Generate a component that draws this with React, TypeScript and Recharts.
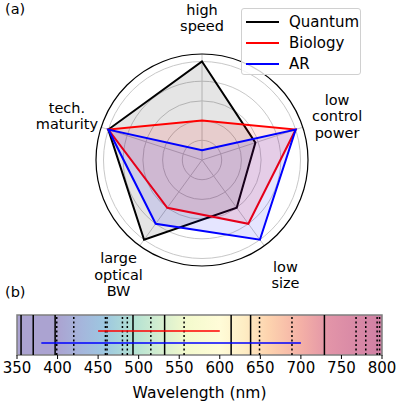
import React from "react";
import {
  RadarChart,
  Radar,
  PolarGrid,
  PolarAngleAxis,
  PolarRadiusAxis,
  Legend,
  ComposedChart,
  Line,
  XAxis,
  YAxis,
  ReferenceLine,
  ReferenceArea,
  Label,
} from "recharts";

// --- radar data ---
const axes = ["high speed", "low control power", "low size", "large optical BW", "tech. maturity"];
const axisLabelLines = [
  ["high", "speed"],
  ["low", "control", "power"],
  ["low", "size"],
  ["large", "optical", "BW"],
  ["tech.", "maturity"],
];
const quantum = [5, 2.85, 3, 5, 5];
const biology = [2, 5, 4, 3, 5];
const ar = [0.5, 5, 5, 4, 5];
const radarTicks = [1, 2, 3, 4, 5];

// --- spectrum data (nm) ---
const wlTicks = [350, 400, 450, 500, 550, 600, 650, 700, 750, 800];
const solidLines = [355, 370, 397, 493, 532, 614, 638, 729];
const dottedLines = [399, 420, 459, 461, 480, 486, 515, 556, 649, 689, 768, 780, 794, 797];
const biologyRange = [450, 600];
const arRange = [380, 700];
const spectrumWl = [350, 400, 430, 458, 495, 530, 560, 600, 630, 660, 700, 735, 800];
const spectrumColors = [
  "#aba3d1", "#aba3d1", "#a5b6dc", "#9dc7e0", "#b4e2d3", "#d8efcf", "#f4facd",
  "#fffcd8", "#feedc4", "#fdd3ae", "#f4b0a6", "#e294a8", "#cf7fa4",
];

const series = [
  { key: "Quantum", color: "#000000", fillOpacity: 0.1 },
  { key: "Biology", color: "#ff0000", fillOpacity: 0.1 },
  { key: "AR", color: "#0000ff", fillOpacity: 0.1 },
];

const radarData = axes.map((a, i) => ({
  axis: a,
  Quantum: quantum[i],
  Biology: biology[i],
  AR: ar[i],
}));

const CX = 202;
const CY = 160;
const OUTER_R = 106;
const LABEL_R = 142;
const FONT = "'DejaVu Sans', sans-serif";

function AngleTick(props: any) {
  const { payload } = props;
  const idx = axes.indexOf(payload.value);
  const lines = axisLabelLines[idx] || [payload.value];
  const ang = (payload.coordinate * Math.PI) / 180;
  const x = CX + LABEL_R * Math.cos(ang);
  const y = CY - LABEL_R * Math.sin(ang);
  const lh = 16.5;
  const start = -((lines.length - 1) / 2) * lh;
  return (
    <text x={x} y={y} textAnchor="middle" fontSize={14.5} fill="#000" dominantBaseline="central">
      {lines.map((l, i) => (
        <tspan key={i} x={x} y={y + start + i * lh}>
          {l}
        </tspan>
      ))}
    </text>
  );
}

function LegendBox() {
  return (
    <div
      style={{
        width: 120,
        height: 67,
        border: "1px solid #d0d0d0",
        borderRadius: 3,
        background: "rgba(255,255,255,0.8)",
        fontFamily: FONT,
        fontSize: 15,
        paddingTop: 2,
        boxSizing: "border-box",
      }}
    >
      {series.map((s) => (
        <div key={s.key} style={{ display: "flex", alignItems: "center", height: 21.3 }}>
          <div style={{ width: 33, height: 2, background: s.color, marginLeft: 4, marginRight: 10 }} />
          <span>{s.key}</span>
        </div>
      ))}
    </div>
  );
}

export default function App() {
  const rangeRows = [
    { name: "Biology", range: biologyRange, color: "#ff0000", level: 0.6 },
    { name: "AR", range: arRange, color: "#0000ff", level: 0.3 },
  ];
  return (
    <div style={{ position: "absolute", left: 0, top: 0, width: 399, height: 401, background: "#fff", fontFamily: FONT }}>
      <div style={{ position: "absolute", left: 5, top: 1, fontSize: 14.5 }}>(a)</div>
      <div style={{ position: "absolute", left: 5, top: 284, fontSize: 14.5 }}>(b)</div>

      <div style={{ position: "absolute", left: 0, top: 0 }}>
        <RadarChart width={399} height={300} cx={CX} cy={CY} outerRadius={OUTER_R} data={radarData}>
          <PolarGrid gridType="circle" stroke="#c8c8c8" strokeWidth={1} />
          <PolarAngleAxis dataKey="axis" tick={<AngleTick />} tickLine={false} axisLine={false} />
          <PolarRadiusAxis domain={[0, 5.38]} ticks={radarTicks} tick={false} axisLine={false} />
          <circle cx={CX} cy={CY} r={OUTER_R} fill="none" stroke="#000" strokeWidth={1.2} />
          {series.map((s) => (
            <Radar
              key={s.key}
              dataKey={s.key}
              stroke={s.color}
              strokeWidth={2}
              fill={s.color}
              fillOpacity={s.fillOpacity}
              dot={false}
              isAnimationActive={false}
            />
          ))}
          <Legend
            content={() => <LegendBox />}
            wrapperStyle={{ position: "absolute", left: 241, top: 8, width: 120, bottom: "auto", right: "auto" }}
          />
        </RadarChart>
      </div>

      <div style={{ position: "absolute", left: 0, top: 305 }}>
        <ComposedChart width={399} height={96} margin={{ top: 10, right: 17, left: 17, bottom: 0 }}>
          <defs>
            <linearGradient id="spectrum" x1="0" y1="0" x2="1" y2="0">
              {spectrumWl.map((w, i) => (
                <stop key={w} offset={(w - 350) / 450} stopColor={spectrumColors[i]} />
              ))}
            </linearGradient>
          </defs>
          <XAxis
            type="number"
            dataKey="wl"
            domain={[350, 800]}
            ticks={wlTicks}
            allowDataOverflow
            height={46}
            axisLine={false}
            tickSize={4}
            tickMargin={3}
            tickLine={{ stroke: "#000" }}
            tick={{ fill: "#000", fontSize: 15 }}
          >
            <Label value="Wavelength (nm)" position="insideBottom" offset={3} fill="#000" fontSize={15.5} />
          </XAxis>
          <YAxis hide domain={[0, 1]} />
          <ReferenceArea
            x1={350}
            x2={800}
            y1={0}
            y2={1}
            fill="url(#spectrum)"
            fillOpacity={1}
            stroke="#7f7f7f"
            strokeWidth={1.5}
          />
          {solidLines.map((w) => (
            <ReferenceLine key={"s" + w} x={w} stroke="#000" strokeWidth={1.5} />
          ))}
          {dottedLines.map((w) => (
            <ReferenceLine key={"d" + w} x={w} stroke="#000" strokeWidth={1.5} strokeDasharray="2 2.5" />
          ))}
          {rangeRows.map((r) => (
            <Line
              key={r.name}
              data={r.range.map((w) => ({ wl: w, v: r.level }))}
              dataKey="v"
              stroke={r.color}
              strokeWidth={1.5}
              dot={false}
              isAnimationActive={false}
            />
          ))}
        </ComposedChart>
      </div>
    </div>
  );
}
